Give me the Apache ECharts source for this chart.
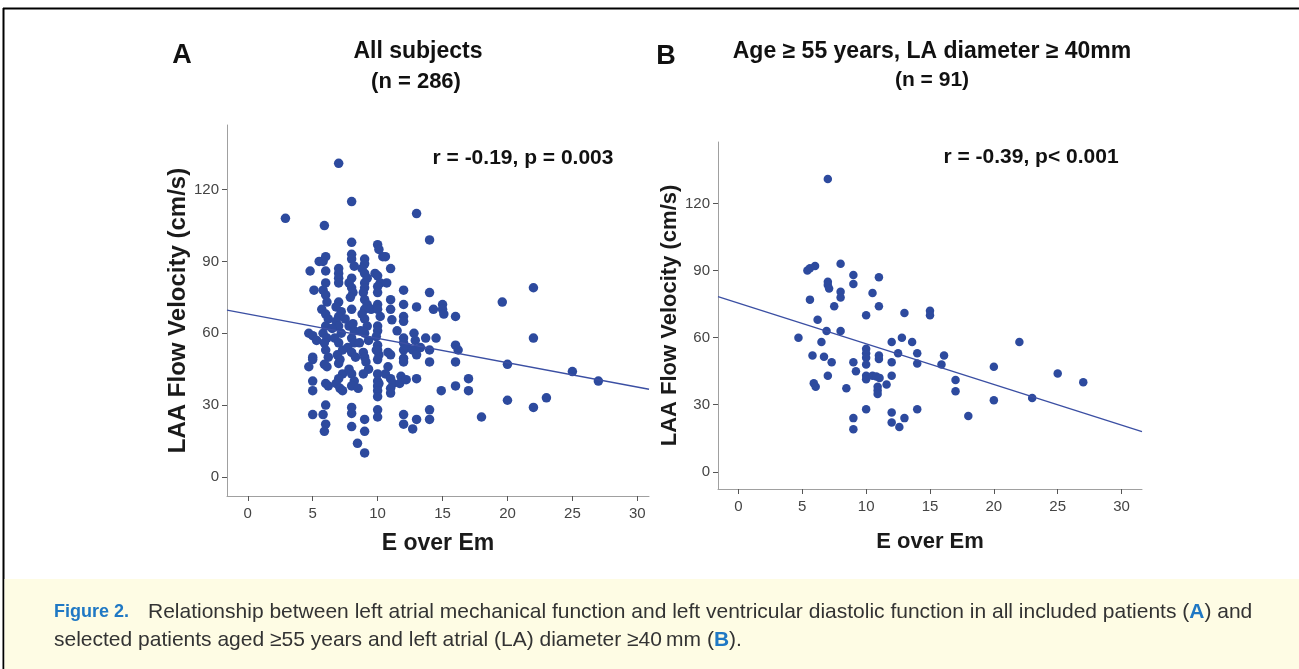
<!DOCTYPE html>
<html>
<head>
<meta charset="utf-8">
<script src="https://cdn.jsdelivr.net/npm/echarts@6/dist/echarts.min.js"></script>
<style>
  html, body { margin: 0; padding: 0; background: #fff; }
  #chart { width: 1299px; height: 669px; }
</style>
</head>
<body>
<div id="chart"></div>
<script>
  // panel A: all subjects (many points overlap in the original)
  const pointsA = [
    [2.9,108],[7,131],[8,115],[5.9,105],[13,110],[14,99],[8,98],[10,97],[10.1,95],[10.4,92],[8,93],
    [4.8,86],[5.1,78],[4.7,60],[5,59],[5.3,57],[5,50],[5,49],[4.7,46],[5,40],[5,36],[5,26],
    [5.5,90],[5.8,90],[6,92],[6,86],[6,81],[5.8,78],[6,76],[6.1,73],[5.7,70],[6,68],[6.2,66],[6,63],
    [5.8,60],[6.1,58],[5.9,56],[6,53],[6.2,50],[5.9,47],[6.1,46],[6,39],[6.2,38],[6,30],[5.8,26],[6,22],[5.9,19],
    [7,87],[7,85],[7,83],[7,81],[7,73],[6.8,71],[7.2,69],[7,67],[6.8,65],[7,63],[7.2,60],[6.7,58],[7,56],
    [7.3,53],[6.9,51],[7.1,49],[7.3,43],[7,41],[6.8,39],[7.1,37],[7.3,36],[7,47.4],[6.5,62],[7.5,66],
    [8,91],[8.2,88],[8,83],[7.8,81],[8,79],[8.1,77],[7.9,75],[8,70],[7.8,63],[8.2,61],[8,58],[8.2,56],
    [7.7,54],[8,52],[8.3,50],[7.8,45],[8,43],[8.2,40],[8,38],[8.5,37],[8,29],[8,26.5],[8,21],[8.45,14],
    [8.1,64],[8.6,56],
    [9,91],[9,89],[8.8,87],[9,85],[9.2,83],[9,81],[9,79],[8.9,77],[9,74],[9.2,72],[9,70],[8.8,68],[9,66],
    [9.2,63],[8.7,61],[9,60],[9.3,57],[8.9,52],[9,50],[9.1,48],[9.3,45],[8.9,43],[9,24],[9,19],[9,10],
    [8.9,60.7],[9.5,70],
    [9.8,85],[10,84],[10.2,81],[10,79.5],[10,77],[10,72],[10,70],[10.2,67],[10,63],[10,61],[9.9,58.6],
    [10,55],[10,53],[10.1,51],[10,49],[10,43],[10,40],[10.1,39],[10,38],[10,36],[10,33.5],[10,28],[10,25],
    [9.9,53],[10.8,46],
    [10.6,92],[11,87],[10.7,81],[11,74],[11,70],[11.5,61],[10.8,52],[11,51],[10.6,43],[11,41],[11.2,39],[11,37],[11,35],
    [11.1,65.6],
    [12,78],[12,72],[12,67],[12,65],[12,58],[12,56],[12,53],[12,49.5],[12,48],[11.8,42],[11.7,39],[12.2,40.6],[12,26],[12,22],
    [12.3,54],[12.7,53],[13,53],[13,51],[12.8,60],[13,71],[13,41],[13,24],[12.7,20],[12.9,57],[13.3,54],
    [13.7,58],[14.5,58],[14,53],[14,48],[14,77],[14.3,70],[14,28],[14,24],
    [15,72],[15,70],[15.1,68],[14.9,36],
    [16,67],[16,55],[16.2,53],[16,48],[16,38],
    [17,41],[17,36],[18,25],[19.6,73],[20,47],[20,32],[22,79],[22,58],[22,29],[23,33],[25,44],[27,40]
  ]

  // panel B: age >= 55, LA diameter >= 40mm
  const pointsB = [
    [7,131],[5.4,90],[5.6,91],[6,92],[8,93],[9,88],[9,84],[11,87],[7,85],[7,83.5],[7.1,82],
    [8,80.5],[8,78],[10.5,80],[5.6,77],[7.5,74],[11,74],[10,70],[13,71],[15,72],[15,70],
    [6.2,68],[6.9,63],[8,63],[4.7,60],[6.5,58],[12,58],[12.8,60],[13.6,58],[22,58],
    [10,55],[10,53],[10,51],[10,48],[11,52],[11,50.5],[12.5,53],[14,53],[16.1,52],[15.9,48],[14,48.4],
    [5.8,52],[6.7,51.5],[7.3,49],[9,49],[12,49],[9.2,45],[10,43],[10,41.4],[10.5,43],[10.8,42.6],[11.05,42],
    [12,43],[7,43],[5.9,39.6],[6.05,38],[8.45,37.4],[10.9,38],[10.9,36.3],[10.9,34.8],[11.6,39],
    [17,41],[17,36],[20,47],[20,32],[25,44],[27,40],[23,33],[10,28],[9,24],[9,19],
    [12,26.5],[12,22],[12.6,20],[13,24],[14,28],[18,25]
  ]

  // fit lines, read at the ends of each x axis
  const fitA = [[-1.6, 69.7], [30.9, 36.6]]
  const fitB = [[-1.6, 78.3], [31.6, 18.0]]

  const xTicks = [0, 5, 10, 15, 20, 25, 30]
  const yTicks = [0, 30, 60, 90, 120]
  const xRangeA = [-1.6, 30.9]
  const xRangeB = [-1.6, 31.6]
  const yRangeA = [-8, 147]
  const yRangeB = [-7.7, 147.5]

  const statA = 'r = -0.19, p = 0.003'
  const statB = 'r = -0.39, p< 0.001'

  const font = 'Liberation Sans, Arial, sans-serif'
  const dotColor = '#2d4a9e'
  const axisGray = '#a0a0a0'

  function xAxisFor(idx, range, gap, nameSize, labelSize) {
    return {
      gridIndex: idx,
      type: 'value',
      min: range[0],
      max: range[1],
      name: 'E over Em',
      nameLocation: 'middle',
      nameGap: gap,
      nameTextStyle: { fontFamily: font, fontWeight: 'bold', fontSize: nameSize, color: '#1a1a1a' },
      axisLine: { onZero: false, lineStyle: { color: axisGray, width: 1 } },
      axisTick: { show: true, length: 5, customValues: xTicks, lineStyle: { color: '#555' } },
      axisLabel: { customValues: xTicks, fontFamily: font, fontSize: labelSize, color: '#444', margin: 10 },
      splitLine: { show: false }
    }
  }

  function yAxisFor(idx, range, gap, nameSize, labelSize) {
    return {
      gridIndex: idx,
      type: 'value',
      min: range[0],
      max: range[1],
      name: 'LAA Flow Velocity (cm/s)',
      nameLocation: 'middle',
      nameRotate: 90,
      nameGap: gap,
      nameTextStyle: { fontFamily: font, fontWeight: 'bold', fontSize: nameSize, color: '#1a1a1a' },
      axisLine: { show: true, onZero: false, lineStyle: { color: axisGray, width: 1 } },
      axisTick: { show: true, length: 5, customValues: yTicks, lineStyle: { color: '#555' } },
      axisLabel: { customValues: yTicks, fontFamily: font, fontSize: labelSize, color: '#444', margin: 8 },
      splitLine: { show: false }
    }
  }

  const chart = echarts.init(document.getElementById('chart'))
  chart.setOption({
    backgroundColor: '#fff',
    animation: false,
    grid: [
      { left: 227, top: 125, width: 422, height: 371 },
      { left: 718, top: 142, width: 424, height: 347 }
    ],
    xAxis: [xAxisFor(0, xRangeA, 36, 23, 15), xAxisFor(1, xRangeB, 42, 22, 15)],
    yAxis: [yAxisFor(0, yRangeA, 34, 24, 15), yAxisFor(1, yRangeB, 35, 22, 15)],
    series: [
      {
        type: 'scatter', xAxisIndex: 0, yAxisIndex: 0, data: pointsA,
        symbolSize: 9.5, itemStyle: { color: dotColor, opacity: 1 }
      },
      {
        type: 'line', xAxisIndex: 0, yAxisIndex: 0, data: fitA,
        symbol: 'none', lineStyle: { color: '#3b4fa3', width: 1.3 }
      },
      {
        type: 'scatter', xAxisIndex: 1, yAxisIndex: 1, data: pointsB,
        symbolSize: 8.5, itemStyle: { color: dotColor, opacity: 1 }
      },
      {
        type: 'line', xAxisIndex: 1, yAxisIndex: 1, data: fitB,
        symbol: 'none', lineStyle: { color: '#3b4fa3', width: 1.3 }
      }
    ],
    graphic: [
      // frame
      { type: 'line', shape: { x1: 3, y1: 8.5, x2: 1299, y2: 8.5 }, style: { stroke: '#000', lineWidth: 2 } },
      { type: 'line', shape: { x1: 3.5, y1: 8, x2: 3.5, y2: 669 }, style: { stroke: '#000', lineWidth: 2 } },
      { type: 'rect', shape: { x: 4.5, y: 579, width: 1295, height: 90 }, style: { fill: '#fefce4' } },
      // panel headings
      { type: 'text', x: 182, y: 56, style: { text: 'A', font: 'bold 27px ' + font, fill: '#111', align: 'center', verticalAlign: 'middle' } },
      { type: 'text', x: 418, y: 52, style: { text: 'All subjects', font: 'bold 23px ' + font, fill: '#111', align: 'center', verticalAlign: 'middle' } },
      { type: 'text', x: 416, y: 82, style: { text: '(n = 286)', font: 'bold 22px ' + font, fill: '#111', align: 'center', verticalAlign: 'middle' } },
      { type: 'text', x: 666, y: 57, style: { text: 'B', font: 'bold 27px ' + font, fill: '#111', align: 'center', verticalAlign: 'middle' } },
      { type: 'text', x: 932, y: 52, style: { text: 'Age \u2265 55 years, LA diameter \u2265 40mm', font: 'bold 23px ' + font, fill: '#111', align: 'center', verticalAlign: 'middle' } },
      { type: 'text', x: 932, y: 80, style: { text: '(n = 91)', font: 'bold 21px ' + font, fill: '#111', align: 'center', verticalAlign: 'middle' } },
      // correlation notes
      { type: 'text', x: 523, y: 158, style: { text: statA, font: 'bold 21px ' + font, fill: '#111', align: 'center', verticalAlign: 'middle' } },
      { type: 'text', x: 1031, y: 157, style: { text: statB, font: 'bold 21px ' + font, fill: '#111', align: 'center', verticalAlign: 'middle' } },
      // caption
      {
        type: 'text', x: 54, y: 612,
        style: { text: 'Figure 2.', font: 'bold 18px ' + font, fill: '#1f78c4', verticalAlign: 'middle' }
      },
      {
        type: 'text', x: 148, y: 612,
        style: {
          text: 'Relationship between left atrial mechanical function and left ventricular diastolic function in all included patients ({b|A}) and',
          font: '21px ' + font, fill: '#333', verticalAlign: 'middle',
          rich: { b: { font: 'bold 21px ' + font, fill: '#1f78c4' } }
        }
      },
      {
        type: 'text', x: 54, y: 640,
        style: {
          text: 'selected patients aged \u226555 years and left atrial (LA) diameter \u226540\u2009mm ({b|B}).',
          font: '21px ' + font, fill: '#333', verticalAlign: 'middle',
          rich: { b: { font: 'bold 21px ' + font, fill: '#1f78c4' } }
        }
      }
    ]
  })
</script>
</body>
</html>
